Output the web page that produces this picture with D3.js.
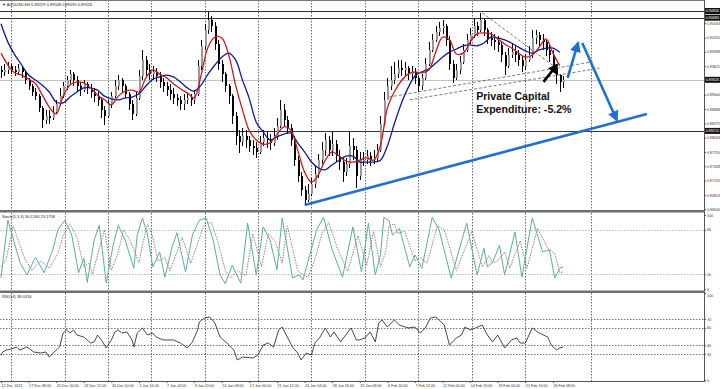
<!DOCTYPE html>
<html><head><meta charset="utf-8">
<script src="https://cdn.jsdelivr.net/npm/d3@7"></script>
<style>body{margin:0;background:#fff}svg{display:block;font-family:Arial,"Liberation Sans",sans-serif}</style>
</head><body><svg id="c" width="720" height="389"></svg>
<script>
// ---------- DATA ----------
const timeLabels = ["12 Dec 2013","17 Dec 08:00","20 Dec 00:00","24 Dec 12:00","30 Dec 00:00","2 Jan 16:00","7 Jan 04:00","9 Jan 20:00","14 Jan 08:00","17 Jan 00:00","21 Jan 12:00","24 Jan 04:00","28 Jan 16:00","31 Jan 08:00","4 Feb 20:00","7 Feb 12:00","12 Feb 00:00","14 Feb 16:00","19 Feb 04:00","21 Feb 16:00","26 Feb 08:00"];
const labelEvery = 16;               // bars between time labels
const weekGridBars = [6,37,62,87,118,149,180,211,242,273,304,342];
const priceTicks = [0.86500,0.86813,0.87125,0.87438,0.87750,0.88063,0.88375,0.88688,0.89000,0.89313,0.89625,0.89938,0.90250,0.90563];
const stochTicks = [0,20,80,100];
const rsiTicks = [0,30,40,60,70,100];
const stochLevels = [20,80];
const rsiLevels = [30,40,60,70];

// candles (each entry = 2 H4 bars)
const opens = [.8954,.8950,.8954,.8963,.8954,.8950,.8958,.8950,.8932,.8919,
.8906,.8897,.8871,.8845,.8854,.8849,.8862,.8880,.8897,.8919,
.8932,.8945,.8932,.8919,.8910,.8924,.8915,.8906,.8897,.8889,
.8867,.8854,.8880,.8897,.8919,.8932,.8919,.8902,.8880,.8858,
.8893,.8941,.8976,.8954,.8945,.8950,.8941,.8928,.8919,.8910,
.8902,.8893,.8889,.8880,.8889,.8893,.8889,.8902,.8963,.9007,
.9041,.9063,.9050,.9011,.8967,.8945,.8919,.8897,.8854,.8810,
.8797,.8810,.8801,.8788,.8784,.8775,.8797,.8806,.8801,.8795,
.8810,.8832,.8867,.8845,.8827,.8801,.8757,.8722,.8692,.8670,
.8683,.8705,.8727,.8757,.8779,.8801,.8779,.8792,.8766,.8753,
.8731,.8749,.8788,.8779,.8722,.8757,.8757,.8766,.8757,.8762,
.8779,.8836,.8889,.8919,.8932,.8945,.8958,.8954,.8958,.8945,
.8950,.8937,.8919,.8937,.8967,.8998,.9020,.9037,.9046,.9050,
.9020,.8967,.8937,.8954,.8972,.8998,.9020,.9031,.9050,.9041,
.9063,.9041,.9024,.9020,.9015,.9009,.8987,.8963,.8987,.8993,
.8987,.8976,.8963,.8976,.8987,.9024,.9031,.9020,.9015,.8998,
.8987,.8958,.8943,.8928];
const highs = [.8963,.8967,.8972,.8967,.8963,.8967,.8963,.8954,.8937,.8924,
.8915,.8902,.8875,.8867,.8867,.8875,.8889,.8915,.8928,.8941,
.8954,.8950,.8941,.8928,.8932,.8928,.8924,.8915,.8906,.8893,
.8875,.8889,.8906,.8932,.8943,.8937,.8924,.8906,.8889,.8906,
.8954,.8998,.8985,.8967,.8963,.8958,.8950,.8937,.8928,.8924,
.8915,.8902,.8897,.8902,.8906,.8902,.8910,.8976,.9020,.9055,
.9081,.9072,.9059,.9020,.8976,.8950,.8924,.8902,.8862,.8823,
.8827,.8823,.8810,.8801,.8797,.8810,.8823,.8819,.8814,.8827,
.8849,.8889,.8880,.8854,.8836,.8810,.8766,.8731,.8701,.8705,
.8718,.8744,.8771,.8797,.8816,.8810,.8819,.8801,.8779,.8762,
.8762,.8819,.8806,.8788,.8775,.8775,.8779,.8775,.8779,.8792,
.8854,.8906,.8937,.8963,.8972,.8976,.8976,.8972,.8963,.8963,
.8958,.8941,.8945,.8980,.9015,.9033,.9050,.9059,.9063,.9055,
.9028,.8976,.8967,.8985,.9011,.9033,.9046,.9068,.9059,.9079,
.9068,.9046,.9037,.9033,.9028,.9015,.8993,.9002,.9011,.9007,
.8998,.8985,.8989,.9007,.9041,.9041,.9037,.9033,.9020,.9011,
.8998,.8967,.8945,.8941];
const lows = [.8937,.8941,.8945,.8945,.8941,.8943,.8937,.8924,.8910,.8897,
.8889,.8862,.8827,.8836,.8836,.8845,.8858,.8875,.8893,.8910,
.8924,.8919,.8906,.8897,.8906,.8902,.8893,.8884,.8875,.8849,
.8834,.8849,.8871,.8893,.8910,.8906,.8893,.8867,.8845,.8854,
.8889,.8932,.8941,.8932,.8932,.8928,.8915,.8906,.8897,.8889,
.8880,.8875,.8867,.8867,.8880,.8875,.8880,.8897,.8954,.8998,
.9033,.9037,.8998,.8954,.8928,.8906,.8880,.8836,.8790,.8773,
.8788,.8784,.8775,.8768,.8762,.8771,.8788,.8784,.8779,.8788,
.8801,.8827,.8832,.8814,.8788,.8744,.8709,.8679,.8659,.8666,
.8679,.8696,.8718,.8749,.8766,.8766,.8766,.8753,.8736,.8709,
.8722,.8740,.8757,.8696,.8714,.8744,.8749,.8744,.8749,.8753,
.8775,.8832,.8889,.8910,.8924,.8937,.8941,.8941,.8932,.8932,
.8924,.8906,.8910,.8932,.8963,.8993,.9015,.9028,.9033,.9007,
.8954,.8926,.8932,.8945,.8967,.8993,.9011,.9024,.9028,.9037,
.9028,.9011,.9007,.8998,.8993,.8972,.8943,.8958,.8980,.8972,
.8963,.8950,.8954,.8972,.8980,.9011,.9007,.8998,.8985,.8972,
.8954,.8924,.8906,.8915];
const closes = [.8950,.8954,.8963,.8954,.8950,.8958,.8950,.8932,.8919,.8906,
.8897,.8871,.8845,.8854,.8849,.8862,.8880,.8897,.8919,.8932,
.8945,.8932,.8919,.8910,.8924,.8915,.8906,.8897,.8889,.8867,
.8854,.8880,.8897,.8919,.8932,.8919,.8902,.8880,.8858,.8893,
.8941,.8976,.8954,.8945,.8950,.8941,.8928,.8919,.8910,.8902,
.8893,.8889,.8880,.8889,.8893,.8889,.8902,.8963,.9007,.9041,
.9063,.9050,.9011,.8967,.8945,.8919,.8897,.8854,.8810,.8797,
.8810,.8801,.8788,.8784,.8775,.8797,.8806,.8801,.8795,.8810,
.8832,.8867,.8845,.8827,.8801,.8757,.8722,.8692,.8670,.8683,
.8705,.8727,.8757,.8779,.8801,.8779,.8792,.8766,.8753,.8731,
.8749,.8788,.8779,.8722,.8757,.8757,.8766,.8757,.8762,.8779,
.8836,.8889,.8919,.8932,.8945,.8958,.8954,.8958,.8945,.8950,
.8937,.8919,.8937,.8967,.8998,.9020,.9037,.9046,.9050,.9020,
.8967,.8937,.8954,.8972,.8998,.9020,.9031,.9050,.9041,.9063,
.9041,.9024,.9020,.9015,.9009,.8987,.8963,.8987,.8993,.8987,
.8976,.8963,.8976,.8987,.9024,.9031,.9020,.9015,.8998,.8987,
.8958,.8943,.8928,.89326];
const barsPerCandle = 2;

// moving averages, sampled every 4 bars
const maStep = 4;
const maRed = [.8991,.8965,.8948,.8943,.8934,.8924,.8899,.8873,.8858,.8897,
.8921,.8928,.8926,.8915,.8899,.8889,.8878,.8897,.8908,.8910,
.8906,.8937,.8954,.8945,.8937,.8924,.8913,.8904,.8893,.8943,
.9004,.9026,.9024,.8987,.8921,.8867,.8821,.8801,.8792,.8795,
.8814,.8830,.8823,.8779,.8731,.8709,.8725,.8757,.8775,.8766,
.8755,.8753,.8757,.8762,.8757,.8790,.8871,.8906,.8930,.8945,
.8950,.8948,.8954,.8993,.9026,.9020,.8989,.8991,.9015,.9033,
.9035,.9033,.9022,.9011,.9002,.8991,.8982,.8987,.9004,.9022,
.8991,.8963];
const maBlue = [.9055,.9015,.8987,.8965,.8943,.8932,.8921,.8906,.8884,.8882,
.8895,.8906,.8915,.8915,.8910,.8897,.8891,.8889,.8893,.8895,
.8902,.8919,.8934,.8939,.8943,.8939,.8928,.8915,.8908,.8921,
.8945,.8965,.8982,.8991,.8976,.8932,.8891,.8840,.8819,.8801,
.8808,.8814,.8816,.8795,.8775,.8753,.8740,.8736,.8747,.8757,
.8766,.8766,.8753,.8753,.8753,.8757,.8788,.8836,.8880,.8915,
.8941,.8950,.8956,.8969,.8982,.8993,.9000,.9007,.9009,.9007,
.9013,.9026,.9024,.9020,.9013,.9004,.8996,.8991,.8998,.9002,
.9002,.8993];

// stochastic (5,3,3)
const stochMainBars = [0,4,11,15,20,25,30,33,37,41,45,48,50,54,57,61,65,68,72,77,79,82,85,88,92,95,99,102,107,111,115,119,123,127,130,134,139,143,148,152,156,160,163,169,173,175,179,183,187,192,198,204,209,213,217,220,222,225,227,231,237,240,244,250,254,261,270,276,280,282,285,289,292,298,302,308,314,318,321,324,326];
const stochMain = [15,93,36,19,43,22,53,80,93,73,22,42,9,66,86,8,59,86,66,28,73,96,73,30,50,16,55,76,23,73,93,96,66,19,7,32,8,89,19,84,66,26,96,15,19,12,46,80,97,53,16,84,23,89,19,46,97,92,73,82,30,46,28,97,80,15,89,19,55,30,36,59,19,77,16,96,50,53,15,28,30.13];
const stochSigBars = [0,3,7,14,18,23,28,33,36,40,44,48,51,53,57,60,64,68,71,75,80,82,85,88,91,95,98,102,105,110,114,118,122,126,130,133,137,142,146,151,155,159,163,166,172,176,178,182,186,190,195,201,207,212,216,220,223,225,228,230,234,240,243,247,253,257,264,273,279,283,285,288,292,295,301,305,311,317,321,324,326];
const stochSig = [30,40,85,40,25,38,28,48,72,88,70,30,35,20,55,80,25,50,80,65,35,60,88,70,38,42,25,50,70,35,62,88,90,62,25,15,25,18,75,30,75,64,35,85,25,18,16,40,74,90,55,24,72,32,78,30,50,85,88,75,78,38,42,35,85,80,25,78,30,45,35,38,50,28,65,28,82,55,48,22,23.18];

// RSI(14)
const rsiBars = [0,1,3,6,9,11,15,19,23,26,28,32,34,36,38,40,42,44,48,52,54,56,59,61,64,66,68,70,73,76,77,79,82,85,88,90,94,100,104,108,111,114,115,118,121,124,127,131,135,137,140,146,149,152,155,158,161,163,166,169,172,174,177,180,182,185,188,191,193,197,199,203,206,208,211,214,217,219,221,224,228,231,236,240,243,246,249,252,254,257,260,264,267,269,272,275,279,282,285,288,292,296,299,301,304,308,312,317,319,322,324,326];
const rsiVals = [28.7,32.2,34.5,35.6,37.9,34.5,37.9,32.2,31,32.2,26.4,34.5,37.9,54,57.5,54,57.5,51.7,49.4,42.5,43.7,51.7,43.7,36.8,46,55.2,57.5,54,55.2,46,37.9,54,59.8,51.7,54,49.4,46,46,42.5,36.8,43.7,57.5,66.7,71.3,72.4,65.5,49.4,42.5,34.5,23,26.4,25.3,28.7,40.2,42.5,37.9,57.5,60.9,49.4,37.9,31,23,31,28.7,42.5,49.4,59.8,49.4,55.2,43.7,49.4,59.8,46,46,48.3,55.2,43.7,65.5,69,60.9,69,63.2,59.8,60.9,54,59.8,71.3,72.4,69,63.2,40.2,48.3,51.7,60.9,57.5,59.8,63.2,51.7,43.7,51.7,36.8,46,48.3,42.5,42.5,59.8,54,49.4,40.2,34.5,36.8,38.03];

// drawn objects (bar index, price)
const hLevels = [0.90830, 0.90683, 0.88210];
const bidPrice = 0.89326;
const dashedLines = [[[225,0.8895],[343,0.8972]],[[237,0.8889],[347,0.8958]],[[279,0.9079],[321,0.8961]]];
const supportLine = [[176,0.8659],[374.5,0.8858]];
const upArrow = [[328.5,0.8937],[334.5,0.9013]];
const downArrow = [[337,0.9013],[357,0.8845]];
const newsArrow = [[314.5,0.8928],[322.3,0.8965]];
const newsText = ["Private Capital","Expenditure: -5.2%"];
const newsAnchor = [275.5, 0.8889];
const headerMain = "\u25BC AUDUSD,H4  0.89229 0.89568 0.89095 0.89326";
const headerStoch = "Stoch(5,3,3) 30.1264 23.1758";
const headerRsi = "RSI(14) 38.0316";

// ---------- DRAW ----------
const svg = d3.select("#c");
const AX = 704;
const FS = 3.7;
const x = d3.scaleLinear().domain([0, 407]).range([1, 703]);
const yP = d3.scaleLinear().domain([0.8646, 0.9107]).range([211, 0]);
const yS = d3.scaleLinear().domain([0, 100]).range([289, 215]);
const yR = d3.scaleLinear().domain([0, 100]).range([380, 293]);

const defs = svg.append("defs");
[["clipM",0,0,AX,210],["clipS",0,213,AX,77],["clipR",0,293,AX,89]].forEach(([id,x0,y0,w,h])=>{
  defs.append("clipPath").attr("id",id).append("rect").attr("x",x0).attr("y",y0).attr("width",w).attr("height",h);
});
function marker(id,color,size){
  defs.append("marker").attr("id",id).attr("viewBox","0 0 10 10").attr("refX",8).attr("refY",5)
    .attr("markerWidth",size).attr("markerHeight",size).attr("markerUnits","userSpaceOnUse").attr("orient","auto")
    .append("path").attr("d","M0,0L10,5L0,10z").attr("fill",color);
}
marker("mBlue","#1f6fd6",11);
marker("mBlack","#000",10);

// vertical weekly grid
const grid = svg.append("g").attr("stroke","#444").attr("stroke-width",0.8).attr("stroke-dasharray","1.5,1.5");
[[0,210],[213,290],[293,381]].forEach(([a,b])=>{
  grid.selectAll(null).data(weekGridBars).enter().append("line")
    .attr("x1",d=>Math.round(x(d))+0.5).attr("x2",d=>Math.round(x(d))+0.5).attr("y1",a).attr("y2",b);
});

// main panel
const gM = svg.append("g").attr("clip-path","url(#clipM)");
gM.append("line").attr("x1",0).attr("x2",AX).attr("y1",Math.round(yP(bidPrice))+0.5).attr("y2",Math.round(yP(bidPrice))+0.5)
  .attr("stroke","#c4c4c4").attr("stroke-width",1);
gM.selectAll(".hl").data(hLevels).enter().append("line")
  .attr("x1",0).attr("x2",AX).attr("y1",d=>Math.round(yP(d))+0.5).attr("y2",d=>Math.round(yP(d))+0.5)
  .attr("stroke","#333").attr("stroke-width",1);

const candles = closes.map((c,i)=>({b:i*barsPerCandle,o:opens[i],h:Math.max(highs[i],opens[i],c),l:Math.min(lows[i],opens[i],c),c}));
const cg = gM.append("g").attr("shape-rendering","crispEdges");
cg.selectAll(".w").data(candles).enter().append("line")
  .attr("x1",d=>Math.round(x(d.b))+0.5).attr("x2",d=>Math.round(x(d.b))+0.5)
  .attr("y1",d=>yP(d.h)).attr("y2",d=>yP(d.l)).attr("stroke","#000").attr("stroke-width",1);
cg.selectAll(".b").data(candles).enter().append("rect")
  .attr("x",d=>Math.round(x(d.b))-0.5).attr("width",2)
  .attr("y",d=>yP(Math.max(d.o,d.c))).attr("height",d=>Math.max(1,Math.abs(yP(d.o)-yP(d.c))))
  .attr("fill",d=>d.c>=d.o?"#9a9a9a":"#000");

const maLine = d3.line().x((d,i)=>x(i*maStep)).y(d=>yP(d)).curve(d3.curveCatmullRom);
gM.append("path").attr("d",maLine(maBlue)).attr("fill","none").attr("stroke","#0c1aa0").attr("stroke-width",1.3);
gM.append("path").attr("d",maLine(maRed)).attr("fill","none").attr("stroke","#d01818").attr("stroke-width",1.3);

const pl = d3.line().x(d=>x(d[0])).y(d=>yP(d[1]));
gM.selectAll(".dl").data(dashedLines).enter().append("path").attr("d",pl)
  .attr("fill","none").attr("stroke","#555").attr("stroke-width",0.8).attr("stroke-dasharray","3,2");
gM.append("path").attr("d",pl(supportLine)).attr("stroke","#1f6fd6").attr("stroke-width",2.6).attr("fill","none");
gM.append("path").attr("d",pl(upArrow)).attr("stroke","#1f6fd6").attr("stroke-width",2.6).attr("fill","none").attr("marker-end","url(#mBlue)");
gM.append("path").attr("d",pl(downArrow)).attr("stroke","#1f6fd6").attr("stroke-width",2.6).attr("fill","none").attr("marker-end","url(#mBlue)");
gM.append("path").attr("d",pl(newsArrow)).attr("stroke","#000").attr("stroke-width",2.6).attr("fill","none").attr("marker-end","url(#mBlack)");
const nt = gM.append("text").attr("x",x(newsAnchor[0])).attr("y",yP(newsAnchor[1]))
  .attr("font-size",10.6).attr("font-weight","bold").attr("fill","#111");
newsText.forEach((t,i)=>nt.append("tspan").attr("x",x(newsAnchor[0])).attr("dy",i?13:0).text(t));

// stochastic panel
const gS = svg.append("g").attr("clip-path","url(#clipS)");
gS.selectAll(".lv").data(stochLevels).enter().append("line")
  .attr("x1",0).attr("x2",AX).attr("y1",d=>Math.round(yS(d))+0.5).attr("y2",d=>Math.round(yS(d))+0.5)
  .attr("stroke","#aaa").attr("stroke-width",0.8).attr("stroke-dasharray","1.5,1.5");
const sl = d3.line().x(d=>x(d[0])).y(d=>yS(d[1]));
gS.append("path").attr("d",sl(d3.zip(stochSigBars,stochSig))).attr("fill","none").attr("stroke","#9a6a6a").attr("stroke-width",0.9).attr("stroke-dasharray","1.5,1.2");
gS.append("path").attr("d",sl(d3.zip(stochMainBars,stochMain))).attr("fill","none").attr("stroke","#5aaea2").attr("stroke-width",1);

// RSI panel
const gR = svg.append("g").attr("clip-path","url(#clipR)");
gR.selectAll(".lv").data(rsiLevels).enter().append("line")
  .attr("x1",0).attr("x2",AX).attr("y1",d=>Math.round(yR(d))+0.5).attr("y2",d=>Math.round(yR(d))+0.5)
  .attr("stroke","#555").attr("stroke-width",0.8).attr("stroke-dasharray","1.5,1.5");
const rl = d3.line().x(d=>x(d[0])).y(d=>yR(d[1]));
gR.append("path").attr("d",rl(d3.zip(rsiBars,rsiVals))).attr("fill","none").attr("stroke","#333").attr("stroke-width",0.9);

// separators & frame
svg.append("rect").attr("x",0).attr("y",210).attr("width",AX+1).attr("height",2.5).attr("fill","#6e6e6e");
svg.append("rect").attr("x",0).attr("y",290.5).attr("width",AX+1).attr("height",2.5).attr("fill","#6e6e6e");
svg.append("line").attr("x1",0).attr("x2",AX).attr("y1",0.5).attr("y2",0.5).attr("stroke","#777");
svg.append("line").attr("x1",0).attr("x2",AX+0.5).attr("y1",381.5).attr("y2",381.5).attr("stroke","#555");

// axes
function styleAxis(g){
  g.selectAll("text").attr("font-size",FS).attr("fill","#333").attr("font-family","Arial, sans-serif");
  g.selectAll(".tick line").attr("stroke","#555");
  g.select(".domain").attr("stroke","#555");
}
svg.append("g").attr("transform",`translate(${AX+0.5},0)`)
  .call(d3.axisRight(yP).tickValues(priceTicks).tickFormat(d3.format(".5f")).tickSize(1.5).tickPadding(0.8).tickSizeOuter(0))
  .call(styleAxis).select(".domain").attr("d","M0,0V211");
svg.append("g").attr("transform",`translate(${AX+0.5},0)`)
  .call(d3.axisRight(yS).tickValues(stochTicks).tickFormat(d3.format("d")).tickSize(1.5).tickPadding(1).tickSizeOuter(0))
  .call(styleAxis).select(".domain").attr("d","M0,212V291");
const ra = svg.append("g").attr("transform",`translate(${AX+0.5},0)`)
  .call(d3.axisRight(yR).tickValues(rsiTicks).tickFormat(d3.format("d")).tickSize(1.5).tickPadding(1).tickSizeOuter(0))
  .call(styleAxis);
ra.select(".domain").attr("d","M0,292V382");
ra.selectAll(".tick text").filter(d=>d===100).attr("dy","0.9em");

const xa = svg.append("g").attr("transform","translate(0,381.5)")
  .call(d3.axisBottom(x).tickValues(timeLabels.map((t,i)=>i*labelEvery)).tickFormat((d,i)=>timeLabels[i]).tickSize(1.5).tickPadding(1.5).tickSizeOuter(0))
  .call(styleAxis);
xa.select(".domain").remove();
xa.selectAll("text").attr("text-anchor","start").attr("dx",0);

// price boxes
const boxes = hLevels.concat([bidPrice]);
const bg = svg.append("g");
boxes.forEach(p=>{
  const yy = yP(p);
  bg.append("rect").attr("x",AX+1).attr("y",yy-3).attr("width",15).attr("height",6).attr("fill","#111");
  bg.append("text").attr("x",AX+1.8).attr("y",yy+1.3).attr("font-size",FS).attr("fill","#fff").text(d3.format(".5f")(p));
});

// headers
svg.append("text").attr("x",2).attr("y",6).attr("font-size",4).attr("fill","#222").text(headerMain);
svg.append("text").attr("x",2).attr("y",218).attr("font-size",4).attr("fill","#222").text(headerStoch);
svg.append("text").attr("x",2).attr("y",298).attr("font-size",4).attr("fill","#222").text(headerRsi);
</script></body></html>
